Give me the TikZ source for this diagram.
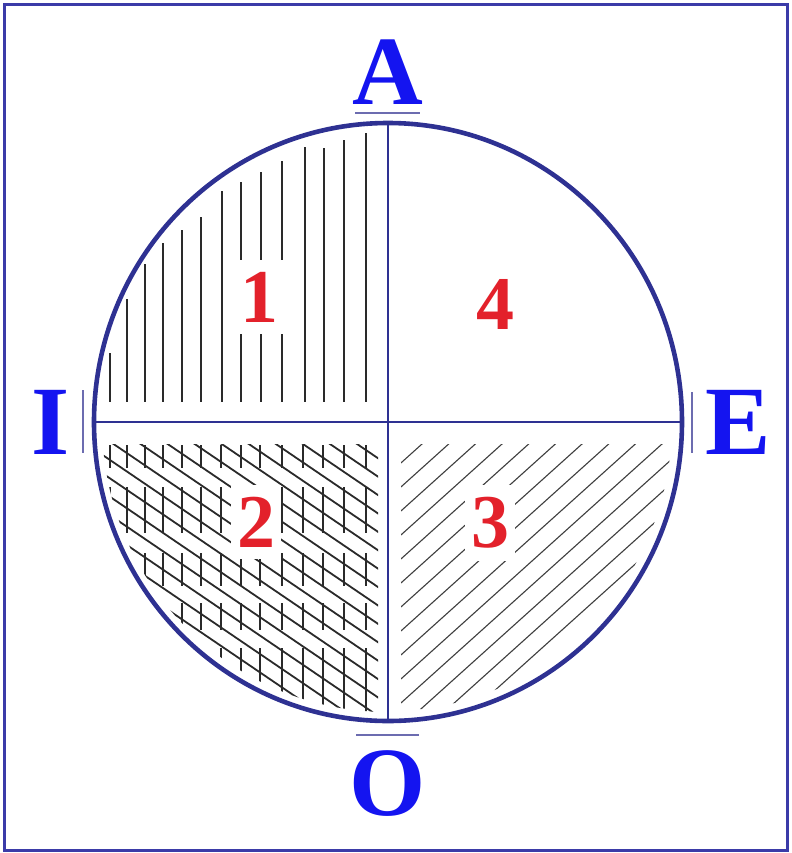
\documentclass[tikz,border=0pt]{standalone}
\usepackage{fontspec}
\setmainfont{Liberation Serif}
\usepackage{xcolor}
\usepackage{tikz}
\usetikzlibrary{positioning}

\definecolor{framec}{HTML}{3B3BA8}
\definecolor{ringc}{HTML}{2E3192}
\definecolor{tickc}{HTML}{6C6CB0}
\definecolor{letc}{HTML}{1414F0}
\definecolor{numc}{HTML}{E3212B}
\definecolor{hatchc}{HTML}{2A2A2A}

\begin{document}
\begin{tikzpicture}[
  x=0.5pt, y=-0.5pt,
  letter/.style={text=letc, inner sep=0pt, font=\bfseries\fontsize{49}{49}\selectfont},
  digit/.style={text=numc, fill=white, inner xsep=3pt, inner ysep=6pt,
    font=\bfseries\fontsize{38}{38}\selectfont},
  ring/.style={draw=ringc, line width=2.3pt},
  cross/.style={draw=ringc, line width=0.7pt},
  tickline/.style={draw=tickc, line width=1pt},
  hatch/.style={draw=hatchc, line width=0.9pt},
  fine/.style={draw=hatchc!90, line width=0.55pt}
]
\useasboundingbox (0,0) rectangle (792,853);
\draw[draw=framec, line width=1.5pt] (4,4) rectangle (787,850);

\coordinate (c) at (388,422);
\coordinate (top) at (388,123);
\coordinate (bot) at (388,721);
\coordinate (lft) at (94,422);
\coordinate (rgt) at (682,422);

\foreach \x/\t in {110/353,127/299,145/264,163/243,182/230,201/217,222/191,
  241/182,261/172,282/161,305/147,324/148,344/140,366/133}
  \draw[hatch] (\x,\t) -- (\x,402);

\begin{scope}
  \clip (c) ellipse [x radius=286, y radius=290];
  \clip (101,444) rectangle (378,760);
  \foreach \k in {201.2,219.6,...,560}
    \draw[hatch] (90,{\k+61.2}) -- (390,{\k+265.2});
  \foreach \x in {110,127,145,163,182,201,221,241,260,282,303,323,344,366}
    \foreach \a/\b in {445/468,487/533,553/586,603/630,648/712}
      \draw[hatch] (\x,\a) -- (\x,\b);
\end{scope}

\begin{scope}
  \clip (c) ellipse [x radius=284, y radius=289];
  \clip (401,444) rectangle (700,760);
  \foreach \k in {799.8,823.8,...,1190}
    \draw[fine] (390,{\k-351}) -- (700,{\k-630});
\end{scope}

\draw[ring] (c) ellipse [x radius=294, y radius=299];
\draw[cross] (top) -- (bot);
\draw[cross] (lft) -- (rgt);

\draw[tickline] (355,113) -- (420,113);
\draw[tickline] (83,390) -- (83,453);
\draw[tickline] (692,392) -- (692,453);
\draw[tickline] (356,735) -- (419,735);

\node[letter, above=9pt of top] (a) {A};
\node[letter, left=12pt of lft] (i) {I};
\node[letter, right=11.5pt of rgt] (e) {E};
\node[letter, below=14.5pt of bot] (o) {O};

\node[digit] (q1) at (259,297) {1};
\node[digit] (q2) at (256,522) {2};
\node[digit] (q3) at (490,523) {3};
\node[digit] (q4) at (495,304) {4};
\end{tikzpicture}
\end{document}
